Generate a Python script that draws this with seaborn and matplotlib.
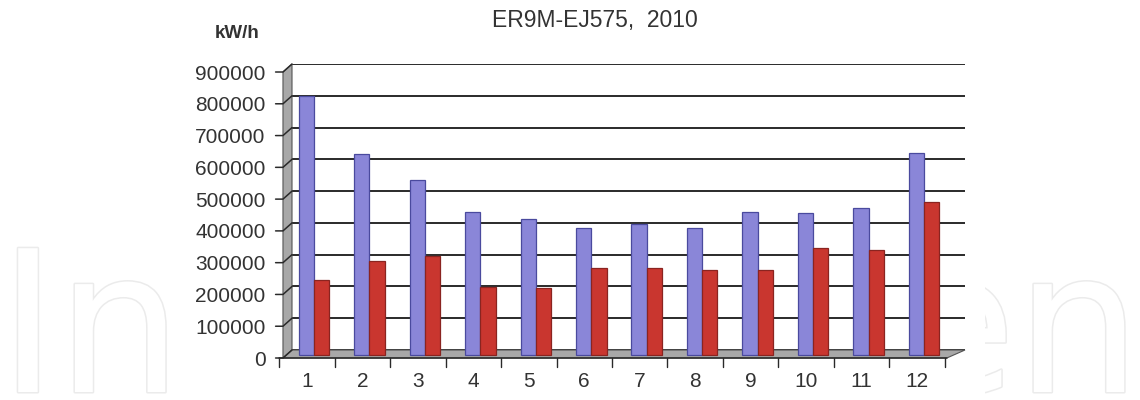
import matplotlib
matplotlib.use('Agg')
import matplotlib.pyplot as plt
import matplotlib.transforms as mtransforms
import matplotlib.patheffects as pe
from matplotlib.patches import Polygon, Rectangle
import pandas as pd
import seaborn as sns

# monthly consumption, kW/h
months = [str(m) for m in range(1, 13)]
series_blue = [815000, 632000, 551000, 451000, 428000, 399000,
               411000, 399000, 451000, 448000, 464000, 637000]
series_red = [236000, 296000, 312000, 213000, 212000, 273000,
              273000, 268000, 268000, 336000, 331000, 480000]
y_ticks = list(range(0, 900001, 100000))

df = pd.DataFrame({
    'month': months * 2,
    'kwh': series_blue + series_red,
    'series': ['blue'] * len(months) + ['red'] * len(months),
})

sns.set_style('white')
plt.rcParams['font.family'] = ['Liberation Sans', 'DejaVu Sans']

fig = plt.figure(figsize=(11.4, 4), dpi=100)
fig.patch.set_facecolor('white')

# faint publisher watermark behind the chart
fig.text(0.5, 0.02, 'IntechOpen', ha='center', va='baseline', fontsize=142,
         family='DejaVu Sans', color='white', zorder=0,
         path_effects=[pe.withStroke(linewidth=2.2, foreground='#ebebeb')])
fig.patches.append(Rectangle((170 / 1140, 0), (985 - 170) / 1140, 1,
                             transform=fig.transFigure, facecolor='white',
                             edgecolor='none', zorder=0.5))

ax = fig.add_axes([292 / 1140, 50 / 400, 673 / 1140, 286 / 400])
ax.set_zorder(2)

sns.barplot(data=df, x='month', y='kwh', hue='series',
            palette=['#8a86d8', '#c9362f'], saturation=1, width=0.55,
            legend=False, ax=ax)

px = 1 / 100  # one pixel in inches
bar_shift = mtransforms.ScaledTranslation(0, -5 * px, fig.dpi_scale_trans)
for cont, edge in zip(ax.containers, ['#4a4a9e', '#8a2420']):
    for p in cont:
        p.set_edgecolor(edge)
        p.set_linewidth(0.9)
        p.set_transform(ax.transData + bar_shift)
        p.set_clip_on(False)
        p.set_zorder(3)

ax.set_ylim(0, 900000)
ax.set_xlim(-0.397, 11.74)
ax.set_yticks(y_ticks)
ax.set_yticklabels([str(v) for v in y_ticks])
ax.grid(axis='y', color='#2a2a2a', linewidth=1.4)
ax.set_axisbelow(True)
for s in ax.spines.values():
    s.set_visible(False)
ax.set_xlabel('')
ax.set_ylabel('')

# pseudo 3D: side wall and floor
dx, dy = -0.0134, -0.028
wall = Polygon([(dx, dy), (0, 0), (0, 1), (dx, 1 + dy)], closed=True,
               transform=ax.transAxes, facecolor='#a8a8a8', edgecolor='#555555',
               linewidth=0.8, clip_on=False, zorder=1)
floor = Polygon([(dx, dy), (0.973, dy), (1.0, 0), (0, 0)], closed=True,
                transform=ax.transAxes, facecolor='#a8a8a8', edgecolor='#555555',
                linewidth=0.8, clip_on=False, zorder=1)
ax.add_patch(wall)
ax.add_patch(floor)
for v in y_ticks:
    f = v / 900000
    ax.plot([dx - 0.011, dx, 0], [f + dy, f + dy, f], transform=ax.transAxes,
            color='#2a2a2a', linewidth=1.1, clip_on=False, zorder=2)

# front axis line with tick marks between the month groups
front_shift = mtransforms.ScaledTranslation(-7 * px, 0, fig.dpi_scale_trans)
xtrans = ax.get_xaxis_transform() + front_shift
ax.plot([-0.5, len(months) - 0.45], [dy, dy], transform=xtrans,
        color='#2a2a2a', linewidth=1.1, clip_on=False, zorder=4)
for i in range(len(months) + 1):
    ax.plot([i - 0.5, i - 0.5], [dy, dy - 0.03], transform=xtrans,
            color='#2a2a2a', linewidth=1.0, clip_on=False, zorder=4)

ax.tick_params(axis='y', length=0, pad=19, labelsize=15, labelcolor='#333333')
ax.tick_params(axis='x', length=0, pad=16, labelsize=15, labelcolor='#333333')
ylab_shift = mtransforms.ScaledTranslation(0, -8 * px, fig.dpi_scale_trans)
for lab in ax.get_yticklabels():
    lab.set_transform(lab.get_transform() + ylab_shift)
for lab in ax.get_xticklabels():
    lab.set_transform(lab.get_transform() + front_shift)

fig.text(595 / 1140, 1 - 21 / 400, 'ER9M-EJ575,  2010', ha='center', va='center',
         fontsize=16.5, color='#333333')
fig.text(237 / 1140, 1 - 33 / 400, 'kW/h', ha='center', va='center',
         fontsize=13.5, fontweight='bold', color='#333333')

fig.savefig('out.png', dpi=100, facecolor='white')
